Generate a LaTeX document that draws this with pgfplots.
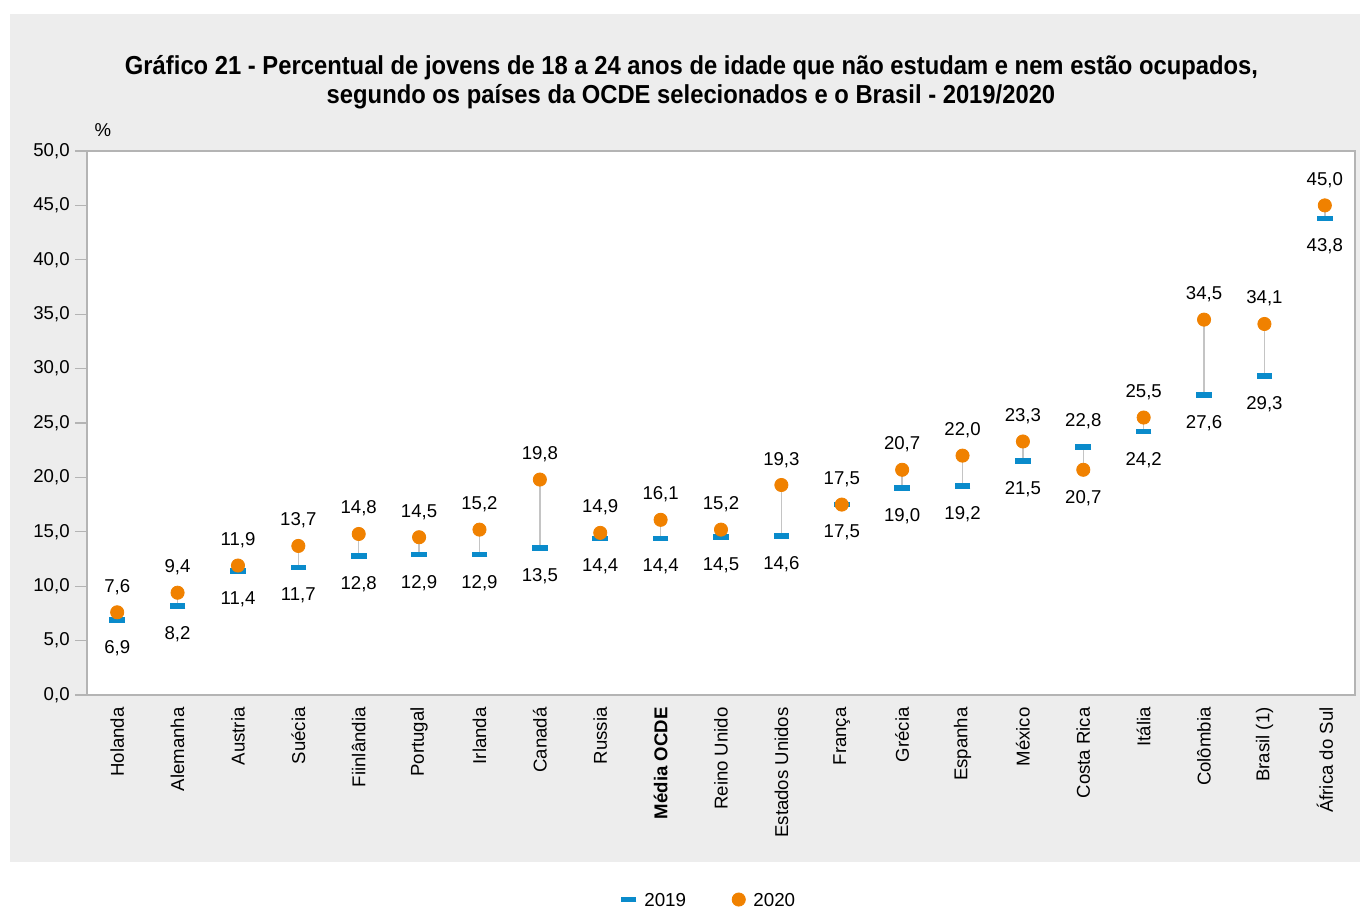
\documentclass[border=0pt]{standalone}
\usepackage{pgfplots}
\pgfplotsset{compat=1.18}
\usepackage{pgfplotstable}
\usepackage{fontspec}
\setmainfont{Liberation Sans}
\newfontfamily\titlefont[FakeStretch=0.915]{Liberation Sans Bold}

\definecolor{bgray}{HTML}{EDEDED}
\definecolor{c19}{HTML}{0A8BCB}
\definecolor{c20}{HTML}{F08100}
\definecolor{axgray}{HTML}{B4B4B4}
\definecolor{whisk}{HTML}{C4C4C4}

\pgfplotstableread{
x a b
0 6.9 7.6
1 8.2 9.4
2 11.4 11.9
3 11.7 13.7
4 12.8 14.8
5 12.9 14.5
6 12.9 15.2
7 13.5 19.8
8 14.4 14.9
9 14.4 16.1
10 14.5 15.2
11 14.6 19.3
12 17.5 17.5
13 19.0 20.7
14 19.2 22.0
15 21.5 23.3
16 22.8 20.7
17 24.2 25.5
18 27.6 34.5
19 29.3 34.1
20 43.8 45.0
}\data

\begin{document}
\begin{tikzpicture}
\useasboundingbox (0,0) rectangle (680pt,454pt);
\fill[bgray] (5pt,23pt) rectangle (680pt,447pt);
\node[font=\titlefont\fontsize{13}{15}\selectfont, anchor=center] at (345.75pt,420pt) {Gráfico 21 - Percentual de jovens de 18 a 24 anos de idade que não estudam e nem estão ocupados,};
\node[font=\titlefont\fontsize{13}{15}\selectfont, anchor=center] at (345.5pt,405.5pt) {segundo os países da OCDE selecionados e o Brasil - 2019/2020};
\node[font=\fontsize{9.3}{11}\selectfont] at (51.5pt,389pt) {\%};
\begin{axis}[
  at={(43.5pt,106.5pt)}, anchor=south west,
  width=634pt, height=272pt, scale only axis,
  xmin=-0.5, xmax=20.5, ymin=0, ymax=50,
  ytick={0,5,...,50},
  xtick={0,...,20},
  xticklabels={Holanda,Alemanha,Austria,Suécia,Fiinlândia,Portugal,Irlanda,Canadá,Russia,\textbf{Média OCDE},Reino Unido,Estados Unidos,França,Grécia,Espanha,México,Costa Rica,Itália,Colômbia,Brasil (1),África do Sul},
  xticklabel style={rotate=90, anchor=east, font=\fontsize{9.3}{11}\selectfont, inner sep=0pt},
  yticklabel style={font=\fontsize{9.3}{11}\selectfont, inner sep=0pt, xshift=-2.5pt},
  /pgf/number format/assume math mode=true,
  yticklabel={\pgfmathprintnumber[fixed,fixed zerofill,precision=1,use comma]{\tick}},
  axis line style={axgray, line width=0.6pt},
  major x tick style={draw=none},
  major y tick style={axgray, line width=0.6pt},
  ytick pos=left, tick align=outside, major tick length=6pt,
  axis background/.style={fill=white},
  clip=false,
  legend style={at={(0.4905,-0.376)}, anchor=center, draw=none, fill=none,
    font=\fontsize{9.4}{11}\selectfont, legend columns=2,
    nodes={inner sep=1pt, text depth=0pt},
    /tikz/every odd column/.append style={column sep=3pt},
    /tikz/every even column/.append style={column sep=22pt}},
  legend cell align=left,
]
% whiskers
\addplot[draw=none, forget plot, mark=none,
  error bars/.cd, y dir=plus, y explicit, error mark=none,
  error bar style={whisk, line width=0.75pt}]
  table[x=x, y=a, y error expr=\thisrow{b}-\thisrow{a}] {\data};
% 2019
\addplot[only marks, mark=-, mark size=3.9pt, mark options={c19, line width=2.8pt, line cap=butt}]
  table[x=x, y=a] {\data};
\addlegendentry{2019}
% 2020
\addplot[only marks, mark=*, mark size=3.3pt, mark options={c20, draw=c20, fill=c20}]
  table[x=x, y=b] {\data};
\addlegendentry{2020}
% labels above (max)
\addplot[draw=none, mark=none, forget plot,
  nodes near coords={\pgfmathprintnumber[fixed,fixed zerofill,precision=1,use comma,assume math mode=true]{\pgfplotspointmeta}},
  every node near coord/.style={anchor=base, inner sep=0pt, yshift=10pt, font=\fontsize{9.3}{11}\selectfont, text=black}]
  table[x=x, y expr={max(\thisrow{a},\thisrow{b})}] {\data};
% labels below (min)
\addplot[draw=none, mark=none, forget plot,
  nodes near coords={\pgfmathprintnumber[fixed,fixed zerofill,precision=1,use comma,assume math mode=true]{\pgfplotspointmeta}},
  every node near coord/.style={anchor=north, inner sep=0pt, yshift=-10pt, font=\fontsize{9.3}{11}\selectfont, text=black}]
  table[x=x, y expr={min(\thisrow{a},\thisrow{b})}] {\data};
\end{axis}
\end{tikzpicture}
\end{document}
